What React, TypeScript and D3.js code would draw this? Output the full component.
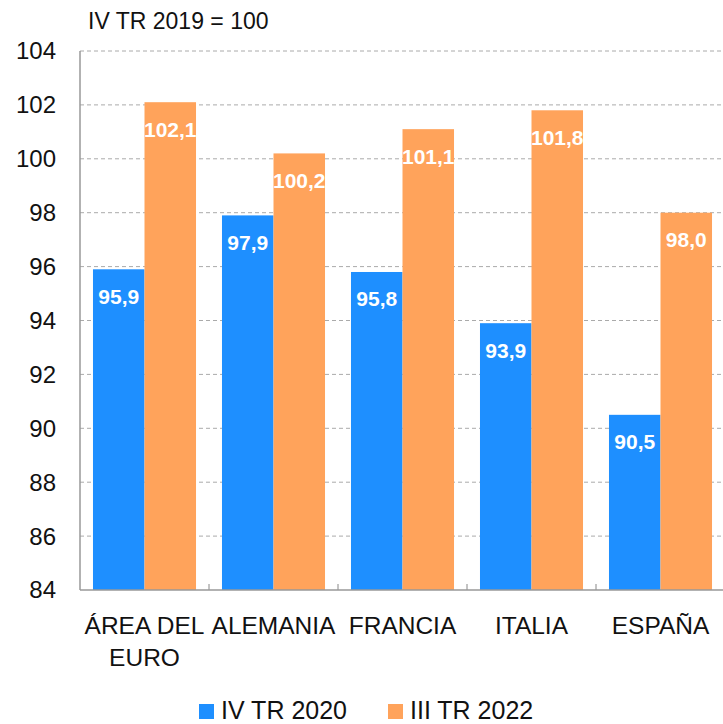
import * as d3 from "d3";

const categories = ["ÁREA DEL EURO", "ALEMANIA", "FRANCIA", "ITALIA", "ESPAÑA"];
const categoryLines = [["ÁREA DEL", "EURO"], ["ALEMANIA"], ["FRANCIA"], ["ITALIA"], ["ESPAÑA"]];
const seriesNames = ["IV TR 2020", "III TR 2022"];
const iv2020 = [95.9, 97.9, 95.8, 93.9, 90.5];
const iii2022 = [102.1, 100.2, 101.1, 101.8, 98.0];
const yTicks = [84, 86, 88, 90, 92, 94, 96, 98, 100, 102, 104];
const colors = ["#1e8fff", "#ffa35b"];

export default function App() {
  const width = 723;
  const height = 724;
  const marginLeft = 80;
  const marginRight = -2;
  const marginTop = 51;
  const bottomY = 590;
  const font = "'Liberation Sans', Arial, sans-serif";

  const x = d3.scaleBand(categories, [marginLeft, width - marginRight]).paddingInner(0).paddingOuter(0);
  const inner = d3.scaleBand(seriesNames, [0, x.bandwidth()]).paddingOuter(0.252).paddingInner(0);
  const y = d3.scaleLinear([84, 104], [bottomY, marginTop]);
  const fmt = (v: number) => v.toFixed(1).replace(".", ",");
  const series = [iv2020, iii2022];

  return (
    <svg width={width} height={height} style={{ position: "absolute", left: 0, top: 0 }} fontFamily={font}>
      <text x={88} y={29} fontSize={23} fill="#111">IV TR 2019 = 100</text>
      {yTicks.map((t) => (
        <g key={t}>
          {t > 84 && (
            <line x1={marginLeft} x2={width} y1={y(t)} y2={y(t)} stroke="#aaa" strokeDasharray="4,3" strokeWidth={1} />
          )}
          <text x={56} y={y(t)} dy="0.35em" textAnchor="end" fontSize={24} fill="#111">{t}</text>
        </g>
      ))}
      {categories.map((c, i) => (
        <g key={c} transform={`translate(${x(c)},0)`}>
          {series.map((s, j) => {
            const bx = inner(seriesNames[j])!;
            const bw = inner.bandwidth();
            return (
              <g key={j}>
                <rect x={bx} y={y(s[i])} width={bw} height={bottomY - y(s[i])} fill={colors[j]} />
                <text x={bx + bw / 2} y={y(s[i]) + 27} dy="0.35em" textAnchor="middle" fontSize={21} fontWeight="bold" fill="#fff">{fmt(s[i])}</text>
              </g>
            );
          })}
          {categoryLines[i].map((l, k) => (
            <text key={k} x={x.bandwidth() / 2} y={634 + k * 32} textAnchor="middle" fontSize={24.5} fill="#111">{l}</text>
          ))}
          {i > 0 && <line x1={0} x2={0} y1={bottomY} y2={bottomY - 6} stroke="#888" />}
        </g>
      ))}
      <line x1={marginLeft} x2={marginLeft} y1={marginTop} y2={bottomY} stroke="#999" strokeWidth={1.5} />
      <line x1={marginLeft} x2={width} y1={bottomY} y2={bottomY} stroke="#999" strokeWidth={1.5} />
      {seriesNames.map((n, j) => (
        <g key={n} transform={`translate(${j === 0 ? 199 : 388},0)`}>
          <rect x={0} y={704} width={15} height={15} fill={colors[j]} />
          <text x={22} y={719} fontSize={25} fill="#111">{n}</text>
        </g>
      ))}
    </svg>
  );
}
